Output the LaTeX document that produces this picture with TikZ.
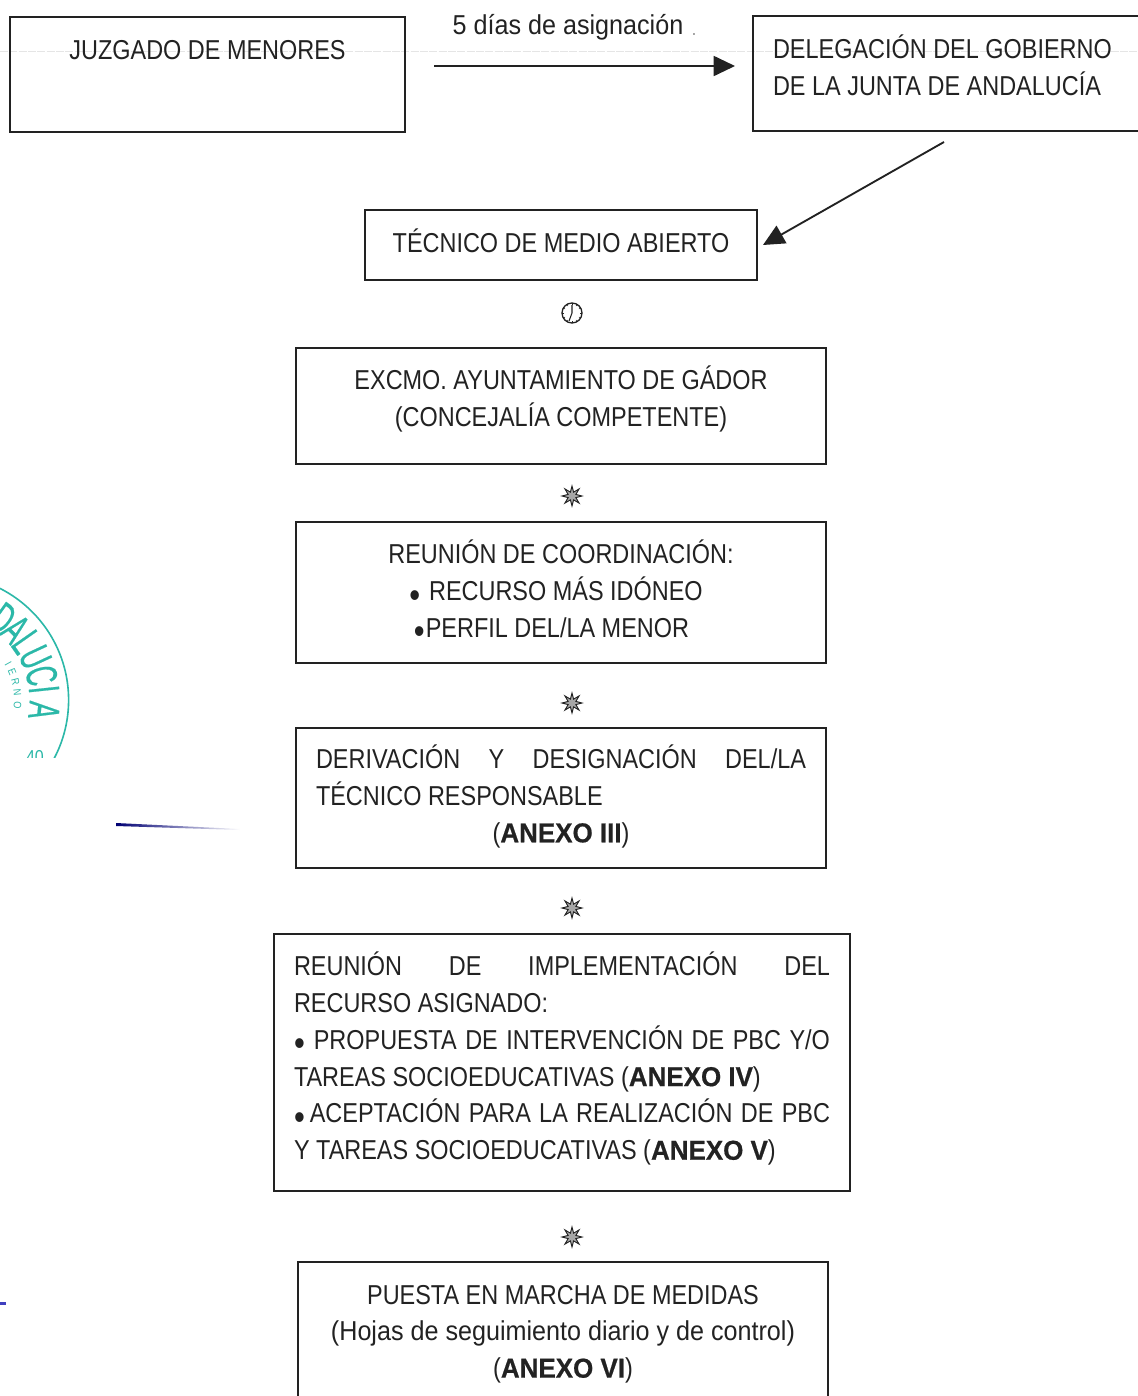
\documentclass[tikz,border=0pt]{standalone}
\usepackage{fontspec}
\setmainfont[FakeStretch=0.858,BoldFeatures={FakeStretch=0.95,FakeBold=0.6}]{Liberation Sans}
\newfontfamily\lcf[FakeStretch=0.92]{Liberation Sans}
\newfontfamily\stampf[FakeStretch=0.58,FakeBold=0.4]{Liberation Sans}
\usetikzlibrary{arrows.meta,shapes.geometric}
\newlength\px \setlength\px{0.75pt}
\definecolor{ink}{HTML}{222222}
\definecolor{stampc}{HTML}{2BB8A8}
\newcommand\boxbody[4]{\parbox[c][#2\px][t]{\dimexpr#1\px-40\px\relax}{\fontsize{20.5pt}{27.6pt}\selectfont\vspace*{\dimexpr#3\px-15pt\relax}\centering\rule{0pt}{15pt}\ignorespaces#4}}
\newcommand\just[1]{\makebox[\linewidth][s]{#1}}
\newcommand\lft[1]{\makebox[\linewidth][l]{#1}}
\newcommand\bul{\raisebox{-5pt}{\fontsize{27pt}{27pt}\selectfont •}}
\tikzset{
  x=0.75pt,y=-0.75pt,
  bx/.style={draw=ink,line width=1.2pt,inner xsep=20\px,inner ysep=0pt,outer sep=0pt,anchor=north west,text=ink},
  conn/.style={draw=ink,line width=1.4pt,-{Triangle[length=16pt,width=15pt]}},
  starm/.style={star,star points=8,star point ratio=2.4,minimum size=15pt,inner sep=0pt,draw=ink,fill=black!35,line width=0.7pt},
  clockm/.style={circle,minimum size=15pt,inner sep=0pt,draw=ink,line width=1pt},
  stamplet/.style={text=stampc,font=\stampf\fontsize{33pt}{33pt}\selectfont,inner sep=0pt},
  stampsm/.style={text=stampc,font=\fontsize{8pt}{8pt}\selectfont,inner sep=0pt},
}
\begin{document}
\begin{tikzpicture}
\useasboundingbox (0,0) rectangle (1138,1396);
\clip (0,0) rectangle (1138,1396);
\fill[white] (0,0) rectangle (1138,1396);
% faint scan line
\draw[black!10,line width=0.5pt,dash pattern=on 6pt off 1pt] (0,51) -- (1138,51);
% stamp
\begin{scope}
\clip (0,560) rectangle (90,757);
\draw[stampc,line width=1.2pt] (-56.4,700) circle[radius=125];
\foreach \t/\a in {D/54,A/44.5,L/35,U/25,C/14,I/6,A/-6}{
  \node[stamplet,rotate=\a-90] at ({-56.4+101*cos(\a)},{700-101*sin(\a)}) {\t};
}
\foreach \t/\a in {I/29,E/22,R/14,N/5.5,O/-4}{
  \node[stampsm,rotate=\a-90] at ({-56.4+74*cos(\a)},{700-74*sin(\a)}) {\t};
}
\node[text=stampc,font=\fontsize{14pt}{14pt}\selectfont,inner sep=0pt] at (35,757) {40};
\end{scope}
% pen marks
\shade[left color=blue!45!black,right color=white] (116,823) -- (240,829) -- (240,830) -- (116,826) -- cycle;
\fill[blue!50!gray] (0,1302) rectangle (6,1305);
% boxes
\node[bx] (juz) at (10,17) {\boxbody{395}{115}{42}{JUZGADO DE MENORES}};
\node[bx] (del) at (753,16) {\boxbody{420}{115}{39}{\lft{DELEGACIÓN DEL GOBIERNO}\\\lft{DE LA JUNTA DE ANDALUCÍA}}};
\node[bx] (tec) at (365,210) {\boxbody{392}{70}{39}{TÉCNICO DE MEDIO ABIERTO}};
\node[bx] (ayu) at (296,348) {\boxbody{530}{116}{38}{EXCMO. AYUNTAMIENTO DE GÁDOR\\(CONCEJALÍA COMPETENTE)}};
\node[bx] (reu) at (296,522) {\boxbody{530}{141}{38}{REUNIÓN DE COORDINACIÓN:\\\hspace*{-10\px}\bul\hspace{9\px}RECURSO MÁS IDÓNEO\\\hspace*{-19\px}\bul\hspace{1\px}PERFIL DEL/LA MENOR}};
\node[bx] (der) at (296,728) {\boxbody{530}{140}{37}{\just{DERIVACIÓN\hfill Y\hfill DESIGNACIÓN\hfill DEL/LA}\\\lft{TÉCNICO RESPONSABLE}\\(\textbf{ANEXO III})}};
\node[bx] (imp) at (274,934) {\boxbody{576}{257}{38}{\just{REUNIÓN\hfill DE\hfill IMPLEMENTACIÓN\hfill DEL}\\\lft{RECURSO ASIGNADO:}\\\just{\bul\hspace{9\px}PROPUESTA DE INTERVENCIÓN DE PBC Y/O}\\\lft{TAREAS SOCIOEDUCATIVAS (\textbf{ANEXO IV})}\\\just{\bul\hspace{5\px}ACEPTACIÓN PARA LA REALIZACIÓN DE PBC}\\\lft{Y TAREAS SOCIOEDUCATIVAS (\textbf{ANEXO V})}}};
\node[bx] (pue) at (298,1262) {\boxbody{530}{170}{42}{PUESTA EN MARCHA DE MEDIDAS\\{\lcf(Hojas de seguimiento diario y de control)}\\(\textbf{ANEXO VI})}};
% label
\node[text=ink,font=\lcf\fontsize{20.5pt}{24pt}\selectfont,inner sep=0pt,anchor=base] (lab) at (568,34) {5 días de asignación};
\node[text=black!45,font=\fontsize{14pt}{14pt}\selectfont,inner sep=0pt,anchor=base] (dot) at (694,35) {.};
% connectors
\coordinate (a1) at (434,66);
\coordinate (a1e) at (735,66);
\coordinate (a2) at (944,142);
\coordinate (a2e) at (763,245);
\draw[conn] (a1) -- (a1e);
\draw[conn] (a2) -- (a2e);
% markers
\node[clockm] (clk) at (572,313) {};
\draw[ink,line width=0.8pt] (clk.center) ++(0,-8) -- (572,313) -- (569,321);
\foreach \a in {0,30,...,330}{\draw[ink,line width=0.4pt] (clk.center) ++(\a:8) -- ++(\a:2);}
\node[starm] (s1) at (572,496) {};
\node[starm] (s2) at (572,703) {};
\node[starm] (s3) at (572,908) {};
\node[starm] (s4) at (572,1237) {};
\end{tikzpicture}
\end{document}
